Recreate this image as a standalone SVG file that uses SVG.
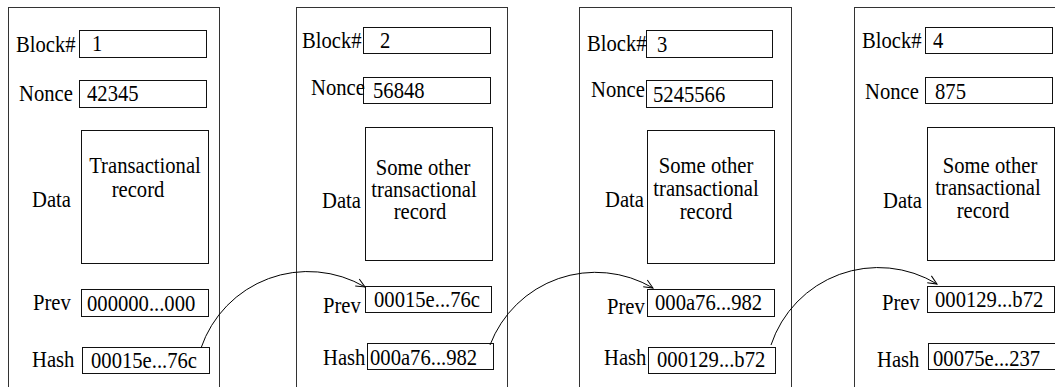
<svg xmlns="http://www.w3.org/2000/svg" width="1055" height="387" viewBox="0 0 1055 387" font-family="Liberation Serif, Times New Roman, serif" font-size="24">
<style>
.outer{fill:none;stroke:#333;stroke-width:1}
.box{fill:none;stroke:#111;stroke-width:1}
.m{text-anchor:middle}
.conn{fill:none;stroke:#000;stroke-width:1}
</style>
<defs>
<marker id="arr" markerUnits="userSpaceOnUse" markerWidth="12" markerHeight="12" refX="10" refY="5" orient="auto">
<path d="M1,1 L10,5 L1,9" fill="none" stroke="#000" stroke-width="1"/>
</marker>
</defs>
<rect width="1055" height="387" fill="#fff"/>

<g id="block1">
<rect class="outer" x="8.5" y="7.5" width="211" height="400"/>
<rect class="box" x="79.5" y="30.5" width="127" height="27"/>
<text font-family="Liberation Serif, serif" transform="translate(16,52) scale(0.86,1)">Block#</text>
<text font-family="Liberation Serif, serif" transform="translate(92,51) scale(0.86,1)">1</text>
<rect class="box" x="79.5" y="80.5" width="127" height="27"/>
<text font-family="Liberation Serif, serif" transform="translate(19,101) scale(0.86,1)">Nonce</text>
<text font-family="Liberation Serif, serif" transform="translate(87,101) scale(0.86,1)">42345</text>
<rect class="box" x="81.5" y="130.5" width="127" height="133"/>
<text font-family="Liberation Serif, serif" class="m" transform="translate(145,173) scale(0.86,1)">Transactional</text>
<text font-family="Liberation Serif, serif" class="m" transform="translate(138,197) scale(0.86,1)">record</text>
<text font-family="Liberation Serif, serif" transform="translate(32,207) scale(0.86,1)">Data</text>
<rect class="box" x="81.5" y="289.5" width="127" height="27"/>
<text font-family="Liberation Serif, serif" transform="translate(33,310) scale(0.86,1)">Prev</text>
<text font-family="Liberation Serif, serif" transform="translate(87,311) scale(0.86,1)">000000...000</text>
<rect class="box" x="82.5" y="347.5" width="127" height="26"/>
<text font-family="Liberation Serif, serif" transform="translate(32,367) scale(0.86,1)">Hash</text>
<text font-family="Liberation Serif, serif" transform="translate(91,368) scale(0.86,1)">00015e...76c</text>
</g>

<g id="block2" font-family="Liberation Serif, serif">
<rect class="outer" x="296.5" y="7.5" width="211" height="400"/>
<rect class="box" x="363.5" y="27.5" width="127" height="26"/>
<text transform="translate(302,48) scale(0.86,1)">Block#</text>
<text transform="translate(380,48) scale(0.86,1)">2</text>
<rect class="box" x="363.5" y="77.5" width="127" height="26"/>
<text transform="translate(311,95) scale(0.86,1)">Nonce</text>
<text transform="translate(373,98) scale(0.86,1)">56848</text>
<rect class="box" x="365.5" y="127.5" width="127" height="133"/>
<text class="m" transform="translate(423,175) scale(0.86,1)">Some other</text>
<text class="m" transform="translate(424,197) scale(0.86,1)">transactional</text>
<text class="m" transform="translate(420,219) scale(0.86,1)">record</text>
<text transform="translate(322,208) scale(0.86,1)">Data</text>
<rect class="box" x="365.5" y="286.5" width="126" height="26"/>
<text transform="translate(323,313) scale(0.86,1)">Prev</text>
<text transform="translate(374,307) scale(0.86,1)">00015e...76c</text>
<rect class="box" x="367.5" y="343.5" width="126" height="26"/>
<text transform="translate(323,365) scale(0.86,1)">Hash</text>
<text transform="translate(370,365) scale(0.86,1)">000a76...982</text>
</g>

<g id="block3" font-family="Liberation Serif, serif">
<rect class="outer" x="579.5" y="7.5" width="212" height="400"/>
<rect class="box" x="646.5" y="30.5" width="126" height="27"/>
<text transform="translate(587,51) scale(0.86,1)">Block#</text>
<text transform="translate(657,52) scale(0.86,1)">3</text>
<rect class="box" x="646.5" y="80.5" width="126" height="27"/>
<text transform="translate(591,97) scale(0.86,1)">Nonce</text>
<text transform="translate(653,102) scale(0.86,1)">5245566</text>
<rect class="box" x="647.5" y="130.5" width="127" height="133"/>
<text class="m" transform="translate(706,173) scale(0.86,1)">Some other</text>
<text class="m" transform="translate(706,196) scale(0.86,1)">transactional</text>
<text class="m" transform="translate(706,219) scale(0.86,1)">record</text>
<text transform="translate(605,207) scale(0.86,1)">Data</text>
<rect class="box" x="647.5" y="289.5" width="127" height="27"/>
<text transform="translate(607,314) scale(0.86,1)">Prev</text>
<text transform="translate(655,310) scale(0.86,1)">000a76...982</text>
<rect class="box" x="648.5" y="347.5" width="127" height="26"/>
<text transform="translate(604,365) scale(0.86,1)">Hash</text>
<text transform="translate(657,367) scale(0.86,1)">000129...b72</text>
</g>

<g id="block4" font-family="Liberation Serif, serif">
<rect class="outer" x="854.5" y="7.5" width="212" height="400"/>
<rect class="box" x="925.5" y="27.5" width="127" height="26"/>
<text transform="translate(862,48) scale(0.86,1)">Block#</text>
<text transform="translate(933,48) scale(0.86,1)">4</text>
<rect class="box" x="925.5" y="77.5" width="127" height="26"/>
<text transform="translate(865,99) scale(0.86,1)">Nonce</text>
<text transform="translate(935,99) scale(0.86,1)">875</text>
<rect class="box" x="927.5" y="127.5" width="127" height="133"/>
<text class="m" transform="translate(990,173) scale(0.86,1)">Some other</text>
<text class="m" transform="translate(988,195) scale(0.86,1)">transactional</text>
<text class="m" transform="translate(983,218) scale(0.86,1)">record</text>
<text transform="translate(883,208) scale(0.86,1)">Data</text>
<rect class="box" x="927.5" y="286.5" width="127" height="26"/>
<text transform="translate(882,310) scale(0.86,1)">Prev</text>
<text transform="translate(935,307) scale(0.86,1)">000129...b72</text>
<rect class="box" x="928.5" y="343.5" width="127" height="26"/>
<text transform="translate(877,367) scale(0.86,1)">Hash</text>
<text transform="translate(933,366) scale(0.86,1)">00075e...237</text>
</g>

<g id="connectors">
<path class="conn" d="M201,348 A113,113 0 0 1 365,287" marker-end="url(#arr)"/>
<path class="conn" d="M490,345 A113,113 0 0 1 653,288" marker-end="url(#arr)"/>
<path class="conn" d="M771,345 A113,113 0 0 1 937,284" marker-end="url(#arr)"/>
</g>
</svg>
